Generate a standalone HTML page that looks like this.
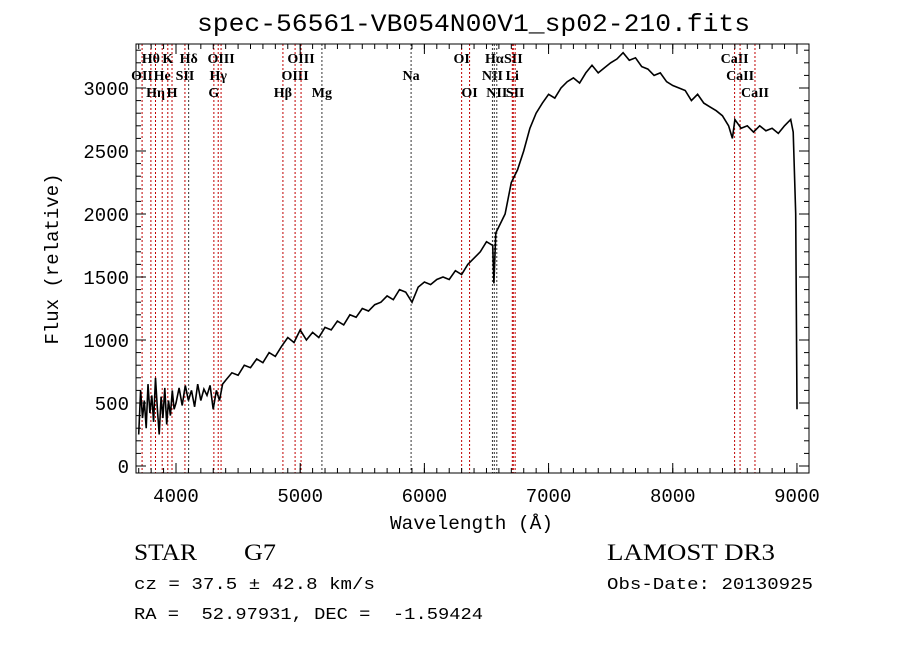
<!DOCTYPE html>
<html><head><meta charset="utf-8">
<style>
html,body{margin:0;padding:0;background:#fff;}
svg{display:block;}
text{white-space:pre;}
.t{font-family:"Liberation Mono","DejaVu Sans Mono",monospace;fill:#000;}
.s{font-family:"Liberation Serif",serif;fill:#000;}
</style></head>
<body>
<svg id="chart" width="900" height="649" xmlns="http://www.w3.org/2000/svg">
<text class="t" x="197" y="31" font-size="25" textLength="553" lengthAdjust="spacingAndGlyphs">spec-56561-VB054N00V1_sp02-210.fits</text>
<g id="lines"></g>
<g id="spec"></g>
<rect x="136" y="44" width="673" height="429" fill="none" stroke="#000" stroke-width="1"/>
<g id="axes"></g>
<text class="t" x="390" y="529" font-size="19" textLength="163" lengthAdjust="spacingAndGlyphs">Wavelength (Å)</text>
<text class="t" transform="translate(58,259) rotate(-90)" font-size="19" text-anchor="middle">Flux (relative)</text>
<text class="s" x="134" y="560" font-size="23" textLength="63" lengthAdjust="spacingAndGlyphs">STAR</text>
<text class="s" x="244" y="560" font-size="23" textLength="32" lengthAdjust="spacingAndGlyphs">G7</text>
<text class="s" x="607" y="560" font-size="23" textLength="168" lengthAdjust="spacingAndGlyphs">LAMOST DR3</text>
<text class="t" x="134" y="589" font-size="17" textLength="241" lengthAdjust="spacingAndGlyphs">cz = 37.5 ± 42.8 km/s</text>
<text class="t" x="607" y="589" font-size="17" textLength="206" lengthAdjust="spacingAndGlyphs">Obs-Date: 20130925</text>
<text class="t" x="134" y="619" font-size="17" textLength="349" lengthAdjust="spacingAndGlyphs">RA =  52.97931, DEC =  -1.59424</text>
</svg>
<script>
const wavelengths=[3700,3715,3730,3745,3760,3775,3790,3805,3820,3835,3850,3865,3880,3895,3910,3925,3940,3955,3970,3985,4000,4025,4050,4075,4100,4125,4150,4175,4200,4225,4250,4275,4300,4325,4350,4375,4400,4450,4500,4550,4600,4650,4700,4750,4800,4850,4900,4950,5000,5050,5100,5150,5200,5250,5300,5350,5400,5450,5500,5550,5600,5650,5700,5750,5800,5850,5900,5950,6000,6050,6100,6150,6200,6250,6300,6350,6400,6450,6500,6550,6560,6575,6600,6650,6700,6750,6800,6850,6900,6950,7000,7050,7100,7150,7200,7250,7300,7350,7400,7450,7500,7550,7600,7650,7700,7750,7800,7850,7900,7950,8000,8050,8100,8150,8200,8250,8300,8350,8400,8450,8480,8500,8550,8600,8650,8700,8750,8800,8850,8900,8950,8970,8990,9000];
const fluxes=[250,600,380,520,300,650,420,560,350,700,450,250,550,380,620,330,520,400,600,450,500,620,480,640,520,600,470,650,520,610,560,640,450,600,520,650,680,740,720,800,780,850,820,900,870,950,1020,980,1080,1000,1060,1020,1100,1080,1150,1120,1200,1180,1250,1230,1280,1300,1350,1320,1400,1380,1300,1420,1460,1440,1480,1500,1480,1550,1520,1600,1650,1700,1780,1750,1450,1850,1900,2000,2250,2350,2500,2680,2800,2880,2950,2920,3000,3050,3080,3040,3120,3180,3120,3160,3200,3230,3280,3220,3240,3170,3150,3100,3120,3050,3020,3000,2980,2900,2950,2880,2850,2820,2780,2700,2600,2750,2680,2700,2650,2700,2660,2680,2640,2700,2750,2650,2000,450];
const xTicks=[4000,5000,6000,7000,8000,9000];
const yTicks=[0,500,1000,1500,2000,2500,3000];
const lineWaves=[3727,3798,3835,3889,3934,3968,4072,4102,4305,4340,4363,4861,4959,5007,5175,5893,6300,6364,6548,6563,6583,6708,6716,6731,8498,8542,8662];
const lineNames=["OII","Hθ","Hη","He","K","H","SII","Hδ","G","Hγ","OIII","Hβ","OIII","OIII","Mg","Na","OI","OI","NII","Hα","NII","Li","SII","SII","CaII","CaII","CaII"];
const lineRows=[1,0,2,1,0,2,1,0,2,1,0,2,1,0,2,1,0,2,1,0,2,1,0,2,0,1,2];
const lineBlack=[0,0,0,0,0,0,0,1,0,0,0,0,0,0,1,1,0,0,1,1,1,0,0,0,0,0,0];
const X0=136,X1=809,W0=3678,W1=9097,Y0=466,YS=0.126;
const xs=w=>X0+(w-W0)/(W1-W0)*(X1-X0);
const ys=f=>Y0-f*YS;
const NS="http://www.w3.org/2000/svg";
function mk(tag,attrs,parent){const e=document.createElementNS(NS,tag);for(const k in attrs)e.setAttribute(k,attrs[k]);parent.appendChild(e);return e;}
const gl=document.getElementById('lines'),gs=document.getElementById('spec'),ga=document.getElementById('axes');
lineWaves.forEach((w,i)=>{
  const x=xs(w);
  const l=mk('line',{x1:x,x2:x,y1:44,y2:473,stroke:lineBlack[i]?'#333':'#c00000','stroke-width':1,'stroke-dasharray':'2,2'},gl);
  
  
  const t=mk('text',{x:x,y:63+lineRows[i]*17,'font-size':14,'text-anchor':'middle',class:'s','font-weight':'bold'},gl);
  t.textContent=lineNames[i];
  
  
});
let d='';
wavelengths.forEach((w,i)=>{d+=(i?'L':'M')+xs(w).toFixed(1)+','+ys(fluxes[i]).toFixed(1);});
const p=mk('path',{d:d,fill:'none',stroke:'#000','stroke-width':1.6},gs);


xTicks.forEach(v=>{
  const x=xs(v);
  mk('line',{x1:x,x2:x,y1:473,y2:463,stroke:'#000'},ga);
  mk('line',{x1:x,x2:x,y1:44,y2:54,stroke:'#000'},ga);
  const t=mk('text',{x:x,y:502,'font-size':19,'text-anchor':'middle',class:'t'},ga);
  t.textContent=v;
  
  
});
for(let v=3700;v<9100;v+=100){const x=xs(v);mk('line',{x1:x,x2:x,y1:473,y2:468,stroke:'#000'},ga);mk('line',{x1:x,x2:x,y1:44,y2:49,stroke:'#000'},ga);}
yTicks.forEach(v=>{
  const y=ys(v);
  mk('line',{x1:136,x2:146,y1:y,y2:y,stroke:'#000'},ga);
  mk('line',{x1:799,x2:809,y1:y,y2:y,stroke:'#000'},ga);
  const t=mk('text',{x:129,y:y+7,'font-size':19,'text-anchor':'end',class:'t'},ga);
  t.textContent=v;
  
  
});
for(let v=0;v<=3300;v+=100){const y=ys(v);mk('line',{x1:136,x2:141,y1:y,y2:y,stroke:'#000'},ga);mk('line',{x1:804,x2:809,y1:y,y2:y,stroke:'#000'},ga);}
</script>
</body></html>
